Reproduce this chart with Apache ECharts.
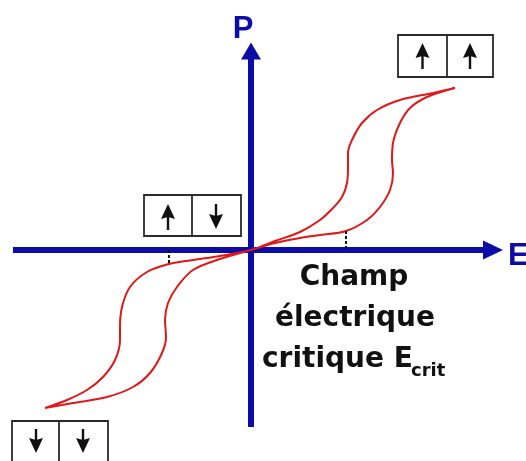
<!DOCTYPE html>
<html>
<head>
<meta charset="utf-8">
<title>Double cycle P(E)</title>
<script src="https://cdn.jsdelivr.net/npm/echarts@6/dist/echarts.min.js"></script>
<style>
  html, body { margin: 0; padding: 0; background: #fff; }
  #chart { width: 526px; height: 461px; }
</style>
</head>
<body>
<div id="chart"></div>
<script>
// double boucle P(E) - unités arbitraires, lues sur la figure
// parcours : pointe bas-gauche -> origine -> pointe haut-droite -> origine -> pointe bas-gauche
const loopE = [
  -20.6, -17.8, -14.4, -11.8, -10.1, -8.9, -8.5, -8.6, -8.3, -7.4, -5.8, -3.1, 0,
  2.4, 4.9, 6.9, 9.5, 11.6, 12.9, 13.9, 14.2, 14.1, 14.2, 14.9, 15.9, 17.6, 20.4,
  18.2, 14.9, 12.6, 11.1, 10.1, 9.7, 9.7, 9.6, 9.1, 8.2, 6.9, 4.9, 2.4, 0,
  -3.1, -5.8, -8.2, -10.4, -12.1, -12.9, -13.1, -13.1, -13.6, -14.8, -16.4, -18.4, -20.6
]
const loopP = [
  -15.8, -15.3, -14.7, -13.7, -12.3, -10.3, -8.7, -7.0, -5.3, -3.7, -2.0, -0.9, 0,
  0.7, 1.2, 1.5, 1.9, 3.0, 4.3, 6.0, 7.7, 9.0, 10.7, 12.7, 14.2, 15.3, 16.2,
  15.7, 15.0, 14.0, 12.7, 11.0, 9.7, 8.3, 6.7, 5.3, 4.2, 3.0, 1.8, 0.9, 0,
  -0.6, -1.0, -1.4, -2.2, -3.7, -5.7, -7.7, -9.0, -11.0, -12.7, -14.0, -15.0, -15.8
]

// champs critiques (petits pointillés)
const critPosE = [9.5, 9.5]
const critPosP = [1.9, 0]
const critNegE = [-8.2, -8.2]
const critNegP = [0, -1.5]

const axisBlue = '#0c0ca6'
const chart = echarts.init(document.getElementById('chart'))

const zip = (xs, ys) => xs.map((x, i) => [x, ys[i]])

// flèche de dipôle dans une case
const arrow = (cx, top, bottom, up) => {
  const tip = up ? top : bottom
  const base = up ? top + 15 : bottom - 15
  return [
    {
      type: 'line',
      shape: { x1: cx, y1: up ? base - 2 : top, x2: cx, y2: up ? bottom : base + 2 },
      style: { stroke: '#111', lineWidth: 2.4 }
    },
    {
      type: 'polygon',
      shape: { points: [[cx, tip], [cx - 7, base], [cx, base + (up ? -2 : 2)], [cx + 7, base]] },
      style: { fill: '#111' }
    }
  ]
}

const box = (x, y, w, h, mid, arrows) => ({
  type: 'group',
  children: [
    {
      type: 'rect',
      shape: { x: x, y: y, width: w, height: h },
      style: { fill: '#fff', stroke: '#2a2a2a', lineWidth: 1.8 }
    },
    {
      type: 'line',
      shape: { x1: mid, y1: y, x2: mid, y2: y + h },
      style: { stroke: '#2a2a2a', lineWidth: 1.8 }
    }
  ].concat(...arrows)
})

const textFont = 'bold 28px "DejaVu Sans"'

const option = {
  animation: false,
  grid: { left: 13, right: 33, top: 51, bottom: 34, outerBoundsMode: 'none', containLabel: false },
  xAxis: {
    type: 'value',
    min: -23.8,
    max: 24.2,
    name: 'E',
    nameLocation: 'end',
    nameGap: 15,
    nameTextStyle: {
      color: axisBlue,
      fontFamily: 'Liberation Sans',
      fontWeight: 'bold',
      fontSize: 31,
      verticalAlign: 'top',
      lineHeight: 12
    },
    axisLine: {
      onZero: true,
      symbol: ['none', 'triangle'],
      symbolSize: [19, 20],
      lineStyle: { color: axisBlue, width: 6, cap: 'butt' }
    },
    axisTick: { show: false },
    axisLabel: { show: false },
    splitLine: { show: false }
  },
  yAxis: {
    type: 'value',
    min: -17.7,
    max: 19.9,
    name: 'P',
    nameLocation: 'end',
    nameGap: 6,
    nameTextStyle: {
      color: axisBlue,
      fontFamily: 'Liberation Sans',
      fontWeight: 'bold',
      fontSize: 31,
      padding: [0, 16, 0, 0]
    },
    axisLine: {
      onZero: true,
      symbol: ['none', 'triangle'],
      symbolSize: [20, 17],
      lineStyle: { color: axisBlue, width: 6, cap: 'butt' }
    },
    axisTick: { show: false },
    axisLabel: { show: false },
    splitLine: { show: false }
  },
  series: [
    {
      type: 'line',
      data: zip(loopE, loopP),
      showSymbol: false,
      smooth: 0.35,
      lineStyle: { color: '#e01818', width: 2 },
      z: 3
    },
    {
      type: 'line',
      data: zip(critPosE, critPosP),
      showSymbol: false,
      lineStyle: { color: '#111', width: 2, type: [3, 2] },
      z: 4
    },
    {
      type: 'line',
      data: zip(critNegE, critNegP),
      showSymbol: false,
      lineStyle: { color: '#111', width: 2, type: [3, 2] },
      z: 4
    }
  ],
  graphic: [
    box(398, 35, 95, 42, 447, [arrow(422.5, 43, 69, true), arrow(470, 43, 69, true)]),
    box(144, 195, 97, 41, 192, [arrow(168, 204, 230, true), arrow(216, 204, 229, false)]),
    box(12, 421, 96, 50, 59, [arrow(36, 429, 453, false), arrow(83, 429, 453, false)]),
    {
      type: 'text',
      style: { text: 'Champ', x: 354, y: 278, font: textFont, fill: '#111', align: 'center', verticalAlign: 'middle' }
    },
    {
      type: 'text',
      style: { text: 'électrique', x: 355, y: 319, font: textFont, fill: '#111', align: 'center', verticalAlign: 'middle' }
    },
    {
      type: 'text',
      style: { text: 'critique E', x: 262, y: 360, font: textFont, fill: '#111', align: 'left', verticalAlign: 'middle' }
    },
    {
      type: 'text',
      style: { text: 'crit', x: 411, y: 371, font: 'bold 18px "DejaVu Sans"', fill: '#111', align: 'left', verticalAlign: 'middle' }
    }
  ]
}

chart.setOption(option)
</script>
</body>
</html>
